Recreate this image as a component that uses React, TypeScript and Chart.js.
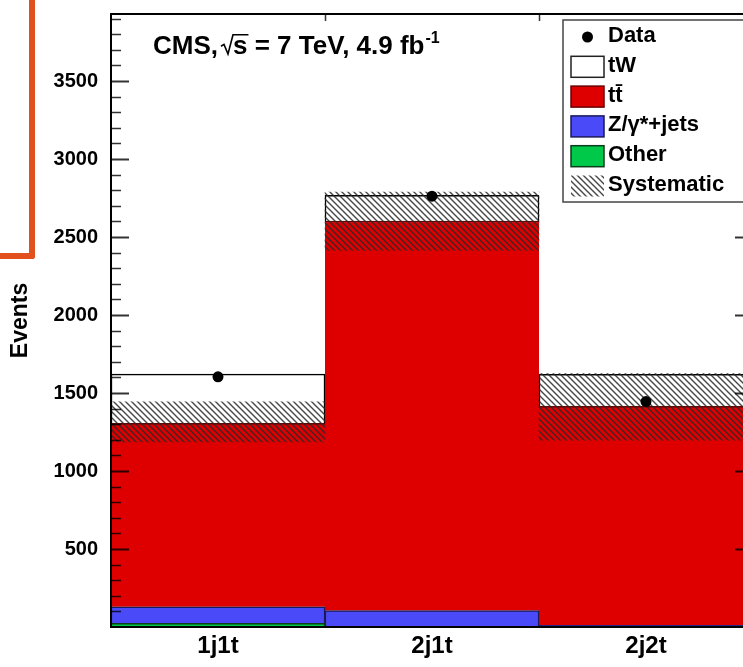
import React, { useEffect, useRef } from 'react';
import { Chart, registerables } from 'chart.js';

Chart.register(...registerables);

const FONT = '"Liberation Sans", Arial, Helvetica, sans-serif';

// ---- data ----
const categories = ['1j1t', '2j1t', '2j2t'];
const otherValues = [24, 5, 3];
const zjetsValues = [106, 100, 7];
const ttbarValues = [1175, 2498, 1405];
const twValues = [316, 165, 205];
const dataValues = [1604, 2762, 1445];
const systLow = [1187, 2415, 1198];
const systHigh = [1443, 2789, 1625];
const yTickValues = [500, 1000, 1500, 2000, 2500, 3000, 3500];
const yMax = 3930;
const yMinorStep = 100;

const RED = '#DE0000';
const BLUE = '#4A4AF8';
const GREEN = '#00C94A';

function makeHatch(color: string): CanvasPattern | string {
  const c = document.createElement('canvas');
  const s = 6;
  c.width = s;
  c.height = s;
  const g = c.getContext('2d');
  if (!g) return color;
  g.strokeStyle = color;
  g.lineWidth = 1.4;
  g.beginPath();
  g.moveTo(-1, -1);
  g.lineTo(s + 1, s + 1);
  g.moveTo(s - 1, -1);
  g.lineTo(s + 1, 1);
  g.moveTo(-1, s - 1);
  g.lineTo(1, s + 1);
  g.stroke();
  return g.createPattern(c, 'repeat') || color;
}

const framePlugin = {
  id: 'rootFrame',
  afterDatasetsDraw(chart: any) {
    const { ctx, chartArea: a, scales } = chart;
    const y = scales.y;
    const x = scales.x;
    ctx.save();
    ctx.strokeStyle = 'rgba(0,0,0,0.8)';
    for (let v = yMinorStep; v < yMax; v += yMinorStep) {
      const py = Math.round(y.getPixelForValue(v)) + 0.5;
      const major = yTickValues.includes(v);
      const len = major ? 18 : 10;
      ctx.lineWidth = major ? 2 : 1.5;
      ctx.beginPath();
      ctx.moveTo(a.left, py);
      ctx.lineTo(a.left + len, py);
      ctx.moveTo(a.right, py);
      ctx.lineTo(a.right - len, py);
      ctx.stroke();
    }
    ctx.lineWidth = 1.5;
    for (let i = 0; i < categories.length - 1; i++) {
      const px = Math.round((x.getPixelForValue(i) + x.getPixelForValue(i + 1)) / 2) + 0.5;
      ctx.beginPath();
      ctx.moveTo(px, a.top);
      ctx.lineTo(px, a.top + 7);
      ctx.stroke();
    }
    ctx.strokeStyle = '#000';
    ctx.lineWidth = 2;
    ctx.strokeRect(a.left, a.top, a.right - a.left, a.bottom - a.top);
    ctx.restore();
  },
};

const titlePlugin = {
  id: 'cmsTitle',
  afterDraw(chart: any) {
    const { ctx, chartArea: a } = chart;
    ctx.save();
    ctx.fillStyle = '#000';
    ctx.strokeStyle = '#000';
    ctx.textBaseline = 'alphabetic';
    ctx.textAlign = 'left';
    const fs = 26;
    ctx.font = `bold ${fs}px ${FONT}`;
    let x = a.left + 42;
    const base = a.top + 40;
    ctx.fillText('CMS,', x, base);
    x += ctx.measureText('CMS,').width + 3;
    const capTop = base - fs * 0.74;
    const sW = ctx.measureText('s').width;
    ctx.lineWidth = 1.6;
    ctx.beginPath();
    ctx.moveTo(x, base - fs * 0.3);
    ctx.lineTo(x + 3, base - fs * 0.37);
    ctx.lineTo(x + 7, base);
    ctx.lineTo(x + 12, capTop);
    ctx.lineTo(x + 13 + sW, capTop);
    ctx.stroke();
    x += 12;
    ctx.fillText('s', x, base);
    x += sW;
    const rest = ' = 7 TeV, 4.9 fb';
    ctx.fillText(rest, x, base);
    x += ctx.measureText(rest).width;
    ctx.font = `bold ${Math.round(fs * 0.6)}px ${FONT}`;
    ctx.fillText('-1', x + 1, base - fs * 0.42);
    ctx.restore();
  },
};

const legendOrder = [0, 5, 4, 3, 2, 1];

const legendPlugin = {
  id: 'histLegend',
  afterDraw(chart: any) {
    const { ctx } = chart;
    const ds = chart.data.datasets;
    const left = 563;
    const top = 20;
    const w = 200;
    const h = 182;
    const symX = 571;
    const symW = 33;
    const symH = 21;
    const textX = 608;
    const row0 = 37;
    const step = 29.8;
    ctx.save();
    ctx.fillStyle = '#fff';
    ctx.fillRect(left, top, w, h);
    ctx.strokeStyle = '#444';
    ctx.lineWidth = 1.5;
    ctx.strokeRect(left, top, w, h);
    ctx.font = `bold 22px ${FONT}`;
    ctx.textBaseline = 'middle';
    ctx.textAlign = 'left';
    legendOrder.forEach((di, r) => {
      const d = ds[di];
      const cy = row0 + r * step;
      if (d.type === 'line') {
        ctx.fillStyle = '#000';
        ctx.beginPath();
        ctx.arc(symX + symW / 2, cy, 5.5, 0, Math.PI * 2);
        ctx.fill();
      } else {
        ctx.fillStyle = d.backgroundColor;
        ctx.fillRect(symX, cy - symH / 2, symW, symH);
        if (d.label !== 'Systematic') {
          ctx.strokeStyle = d.label === 'tW' ? '#222' : d.borderColor;
          ctx.lineWidth = 1.5;
          ctx.strokeRect(symX, cy - symH / 2, symW, symH);
        }
      }
      ctx.fillStyle = '#000';
      ctx.fillText(d.label, textX, cy - 1);
    });
    ctx.restore();
  },
};

export default function App() {
  const ref = useRef<HTMLCanvasElement>(null);

  useEffect(() => {
    const canvas = ref.current;
    if (!canvas) return;
    const hatch = makeHatch('rgba(40,40,40,0.85)');
    const barCommon = { categoryPercentage: 1, barPercentage: 1, borderSkipped: 'start' };
    const chart = new Chart(canvas, {
      type: 'bar',
      data: {
        labels: categories,
        datasets: [
          {
            type: 'line',
            label: 'Data',
            data: dataValues,
            order: 0,
            showLine: false,
            pointRadius: 5.5,
            pointHoverRadius: 5.5,
            pointBackgroundColor: '#000',
            pointBorderColor: '#000',
            pointBorderWidth: 0,
            borderColor: '#000',
            backgroundColor: '#000',
          },
          {
            type: 'bar',
            label: 'Systematic',
            data: systLow.map((l, i) => [l, systHigh[i]]),
            order: 1,
            stack: 'syst',
            grouped: false,
            backgroundColor: hatch,
            borderWidth: 0,
            ...barCommon,
          },
          {
            type: 'bar',
            label: 'Other',
            data: otherValues,
            order: 2,
            stack: 'mc',
            backgroundColor: GREEN,
            borderColor: '#0B3D1A',
            borderWidth: { top: 1.5, left: 1.5, right: 1.5, bottom: 0 },
            ...barCommon,
          },
          {
            type: 'bar',
            label: 'Z/γ*+jets',
            data: zjetsValues,
            order: 3,
            stack: 'mc',
            backgroundColor: BLUE,
            borderColor: '#1A1A5A',
            borderWidth: { top: 1.5, left: 1.5, right: 1.5, bottom: 0 },
            ...barCommon,
          },
          {
            type: 'bar',
            label: 'tt\u0304',
            data: ttbarValues,
            order: 4,
            stack: 'mc',
            backgroundColor: RED,
            borderColor: '#6A0000',
            borderWidth: { top: 1.5, left: 0, right: 0, bottom: 0 },
            ...barCommon,
          },
          {
            type: 'bar',
            label: 'tW',
            data: twValues,
            order: 5,
            stack: 'mc',
            backgroundColor: '#FFFFFF',
            borderColor: '#000',
            borderWidth: { top: 1.5, left: 1.5, right: 1.5, bottom: 0 },
            ...barCommon,
          },
        ],
      } as any,
      options: {
        responsive: false,
        animation: false,
        events: [],
        layout: { padding: { left: 0, right: 7, top: 14, bottom: 0 } },
        plugins: { legend: { display: false }, tooltip: { enabled: false } },
        scales: {
          x: {
            type: 'category',
            stacked: true,
            offset: true,
            grid: { display: false, drawTicks: false },
            border: { display: false },
            ticks: {
              font: { family: FONT, size: 24, weight: 'bold' },
              color: '#000',
              padding: 5,
              maxRotation: 0,
              autoSkip: false,
            },
            afterFit: (s: any) => {
              s.height = 40;
              s.paddingLeft = 0;
              s.paddingRight = 0;
            },
          },
          y: {
            stacked: true,
            min: 0,
            max: yMax,
            grid: { display: false, drawTicks: false },
            border: { display: false },
            afterBuildTicks: (s: any) => {
              s.ticks = yTickValues.map((v) => ({ value: v }));
            },
            ticks: {
              font: { family: FONT, size: 20, weight: 'bold' },
              color: '#000',
              padding: 13,
              callback: (v: any) => String(v),
            },
            title: {
              display: true,
              text: 'Events',
              font: { family: FONT, size: 23, weight: 'bold' },
              color: '#000',
              padding: { top: 7, bottom: 0 },
            },
            afterFit: (s: any) => {
              s.width = 111;
              s.paddingTop = 0;
              s.paddingBottom = 0;
            },
          },
        },
      } as any,
      plugins: [framePlugin, titlePlugin, legendPlugin],
    });
    return () => chart.destroy();
  }, []);

  return (
    <div
      style={{
        position: 'fixed',
        left: 0,
        top: 0,
        width: 743,
        height: 667,
        overflow: 'hidden',
        background: '#fff',
      }}
    >
      <canvas ref={ref} width={760} height={667} style={{ position: 'absolute', left: 0, top: 0 }} />
      <div
        style={{
          position: 'absolute',
          left: 0,
          top: 0,
          width: 29,
          height: 253,
          borderRight: '6px solid #E2501D',
          borderBottom: '6px solid #E2501D',
          borderBottomRightRadius: 3,
        }}
      />
    </div>
  );
}
